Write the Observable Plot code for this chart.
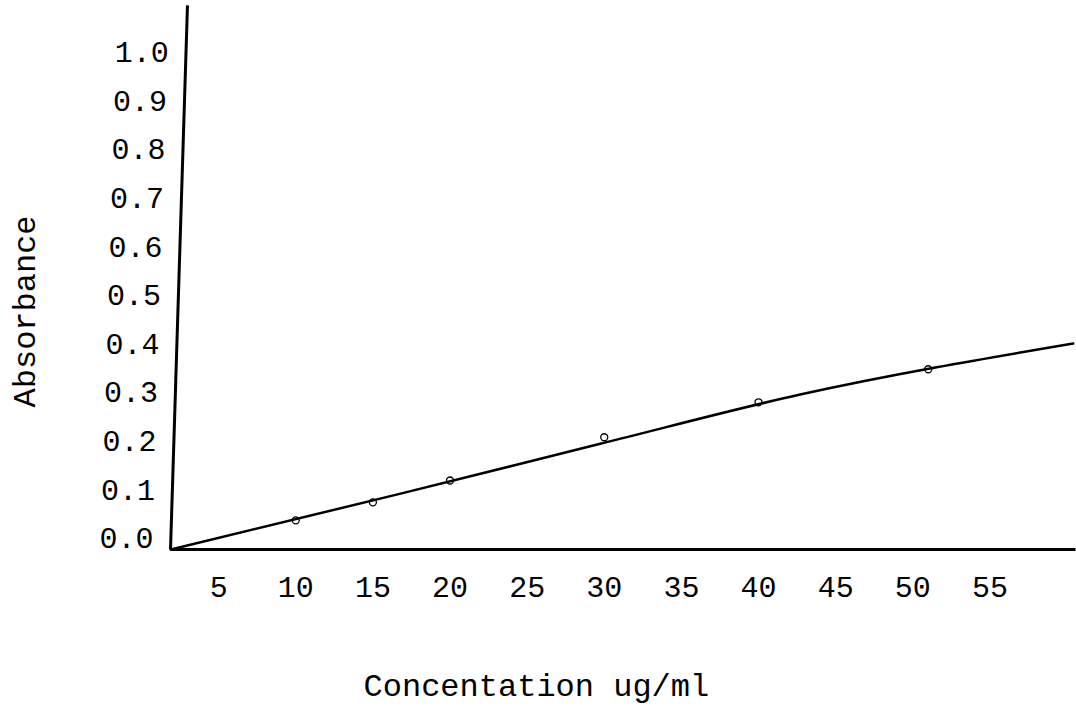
<!DOCTYPE html>
<html>
<head>
<meta charset="utf-8">
<script src="https://cdn.jsdelivr.net/npm/d3@7"></script>
<script src="https://cdn.jsdelivr.net/npm/@observablehq/plot@0.6"></script>
<style>
  html, body { margin: 0; padding: 0; background: #fff; }
  #chart { width: 1076px; height: 706px; }
</style>
</head>
<body>
<div id="chart"></div>
<script>
// Measured points (concentration ug/ml, absorbance)
const concentration = [10, 15, 20, 30, 40, 51];
const absorbance = [0.060, 0.097, 0.142, 0.231, 0.303, 0.371];

// Hand-drawn calibration line
const fitConc = [1.9, 16.8, 29.8, 42.7, 60.4];
const fitAbs = [0, 0.115, 0.218, 0.319, 0.424];

// Tick values
const xTicks = [5, 10, 15, 20, 25, 30, 35, 40, 45, 50, 55];
const yTicks = [0, 0.1, 0.2, 0.3, 0.4, 0.5, 0.6, 0.7, 0.8, 0.9, 1.0];

// Axis lines (drawn by hand, y axis slightly slanted)
const axisOrigin = {x: 1.88, y: 0};
const yAxisTop = {x: 2.98, y: 1.12};
const xAxisEnd = 60.55;

const xLabel = "Concentation ug/ml";
const yLabel = "Absorbance";

const points = concentration.map((c, i) => ({c, a: absorbance[i]}));
const fit = fitConc.map((c, i) => ({c, a: fitAbs[i]}));
const slant = (yAxisTop.x - axisOrigin.x) / (yAxisTop.y - axisOrigin.y);

const font = "'Liberation Mono', 'DejaVu Sans Mono', monospace";

const chart = Plot.plot({
  width: 1076,
  height: 706,
  marginTop: 0,
  marginBottom: 157,
  marginLeft: 141,
  marginRight: 1,
  x: {domain: [0, xAxisEnd], axis: null},
  y: {domain: [0, 1.13], axis: null},
  style: {fontFamily: font, background: "white", color: "black"},
  marks: [
    // x axis line
    Plot.link([{x1: axisOrigin.x, y1: 0, x2: xAxisEnd, y2: 0}],
      {x1: "x1", y1: "y1", x2: "x2", y2: "y2", stroke: "black", strokeWidth: 3}),
    // y axis line
    Plot.link([{x1: axisOrigin.x, y1: axisOrigin.y, x2: yAxisTop.x, y2: yAxisTop.y}],
      {x1: "x1", y1: "y1", x2: "x2", y2: "y2", stroke: "black", strokeWidth: 3}),
    // y tick labels
    Plot.text(yTicks, {
      x: d => axisOrigin.x + d * slant,
      y: d => d,
      text: d => d3.format(".1f")(d),
      textAnchor: "end",
      dx: -17,
      dy: -11,
      fontSize: 30,
      fill: "black"
    }),
    // x tick labels
    Plot.text(xTicks, {
      x: d => d,
      y: () => 0,
      text: d => String(d),
      dy: 38,
      fontSize: 30,
      fill: "black"
    }),
    // calibration line
    Plot.line(fit, {x: "c", y: "a", stroke: "black", strokeWidth: 2.5, curve: "monotone-x"}),
    // measured points
    Plot.dot(points, {x: "c", y: "a", r: 3.5, stroke: "black", strokeWidth: 1.3, fill: "none"}),
    // axis titles
    Plot.text([xLabel], {
      x: () => 25.6,
      y: () => 0,
      text: d => d,
      dy: 136,
      fontSize: 32,
      fill: "black"
    }),
    Plot.text([yLabel], {
      frameAnchor: "left",
      y: () => 0.49,
      text: d => d,
      textAnchor: "middle",
      dx: -117,
      rotate: -90,
      fontSize: 32,
      fill: "black"
    })
  ]
});

document.getElementById("chart").appendChild(chart);
</script>
</body>
</html>
